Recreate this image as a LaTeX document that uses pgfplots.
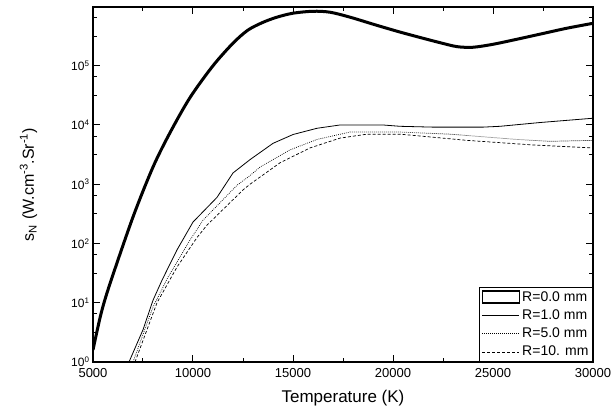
\documentclass[border=0pt]{standalone}
\usepackage{fontspec}
\setmainfont{Liberation Sans}
\usepackage{pgfplots}
\pgfplotsset{compat=1.18}
\begin{document}
\begin{tikzpicture}
\begin{axis}[
  name=ax,
  scale only axis, width=500pt, height=355pt,
  xmin=5000, xmax=30000,
  ymode=log, ymin=1, ymax=9.8e5,
  scaled x ticks=false,
  xtick={5000,10000,15000,20000,25000,30000},
  xticklabels={5000,10000,15000,20000,25000,30000},
  minor xtick={7500,12500,17500,22500,27500},
  ytick={1,10,100,1000,10000,100000},
  yticklabels={10\textsuperscript{0},10\textsuperscript{1},10\textsuperscript{2},10\textsuperscript{3},10\textsuperscript{4},10\textsuperscript{5}},
  minor ytick={3.16,6.46,31.6,64.6,316,646,3160,6460,31600,64600,316000,646000},
  tick align=inside,
  major tick length=7pt, minor tick length=4pt,
  every tick/.style={black, line width=1pt},
  axis line style={line width=1.3pt},
  xticklabel style={font=\fontsize{13}{15}\selectfont},
  yticklabel style={font=\fontsize{12}{14}\selectfont},
  xticklabel shift=3pt,
  xlabel={Temperature (K)},
  ylabel={s\textsubscript{N} (W.cm\textsuperscript{-3}.Sr\textsuperscript{-1})},
  xlabel style={font=\fontsize{17}{19}\selectfont},
  ylabel style={font=\fontsize{16}{18}\selectfont},
  xlabel shift=6pt,
  ylabel shift=27pt,
  legend style={at={(rel axis cs:1,0)}, anchor=south east, draw=black, line width=1pt,
    font=\fontsize{14}{16}\selectfont, inner xsep=2pt, inner ysep=2pt, row sep=3pt},
  legend cell align=left,
  legend image code/.code={\draw[#1] (0pt,0pt) -- (37pt,0pt);},
]
\addplot[black, line width=3pt, smooth, tension=0.5,
  legend image code/.code={\draw[black, line width=1.5pt] (0pt,-6pt) rectangle (37pt,6pt);}]
coordinates {
(5000,1.6) (5400,6.5) (5850,21) (7000,280) (8000,1950) (8850,7400)
(9850,2.9e4) (11000,1.0e5) (12000,2.4e5) (12750,4.0e5) (13500,5.4e5)
(14200,6.6e5) (15000,7.7e5) (16000,8.3e5) (16850,8.0e5) (17850,6.6e5) (19200,4.8e5)
(20350,3.7e5) (21350,3.0e5) (22350,2.45e5) (23200,2.1e5) (24000,2.05e5) (25000,2.3e5)
(26200,2.8e5) (27500,3.5e5) (28700,4.3e5) (30000,5.2e5)
};
\addlegendentry{R=0.0 mm}
\addplot[black, line width=0.8pt]
coordinates {
(6800,1.0) (7500,3.5) (8000,11) (8450,24) (9200,78) (10000,230) (11200,600) (12000,1550)
(12850,2600) (14000,4900) (15000,6900) (16200,8800) (17350,1.0e4) (19500,1.0e4)
(20350,9.5e3) (22000,9.2e3) (24500,9.2e3) (25350,9.5e3) (27350,1.1e4) (30000,1.3e4)
};
\addlegendentry{R=1.0 mm}
\addplot[black, line width=0.7pt, dash pattern=on 0.8pt off 1.2pt]
coordinates {
(7000,1.0) (8000,8.5) (8750,27) (9850,114) (10500,247) (12200,960) (12850,1400) (13350,1950)
(14850,3800) (16200,5700) (17850,7600) (20350,7600) (22850,7000) (26200,5700)
(27850,5300) (30000,5500)
};
\addlegendentry{R=5.0 mm}
\addplot[black, line width=0.7pt, dash pattern=on 3pt off 2pt]
coordinates {
(7100,1.0) (8200,10) (9200,40) (10200,126) (10700,204) (12500,800) (12850,1000) (14350,2300)
(15850,4100) (17350,6000) (18700,7000) (20350,7000) (23700,5500) (27000,4600)
(30000,4100)
};
\addlegendentry{R=10. mm}
\end{axis}
\pgfresetboundingbox
\path (ax.south west) ++(-93pt,-57pt) rectangle ([shift={(20pt,7pt)}]ax.north east);
\end{tikzpicture}
\end{document}
